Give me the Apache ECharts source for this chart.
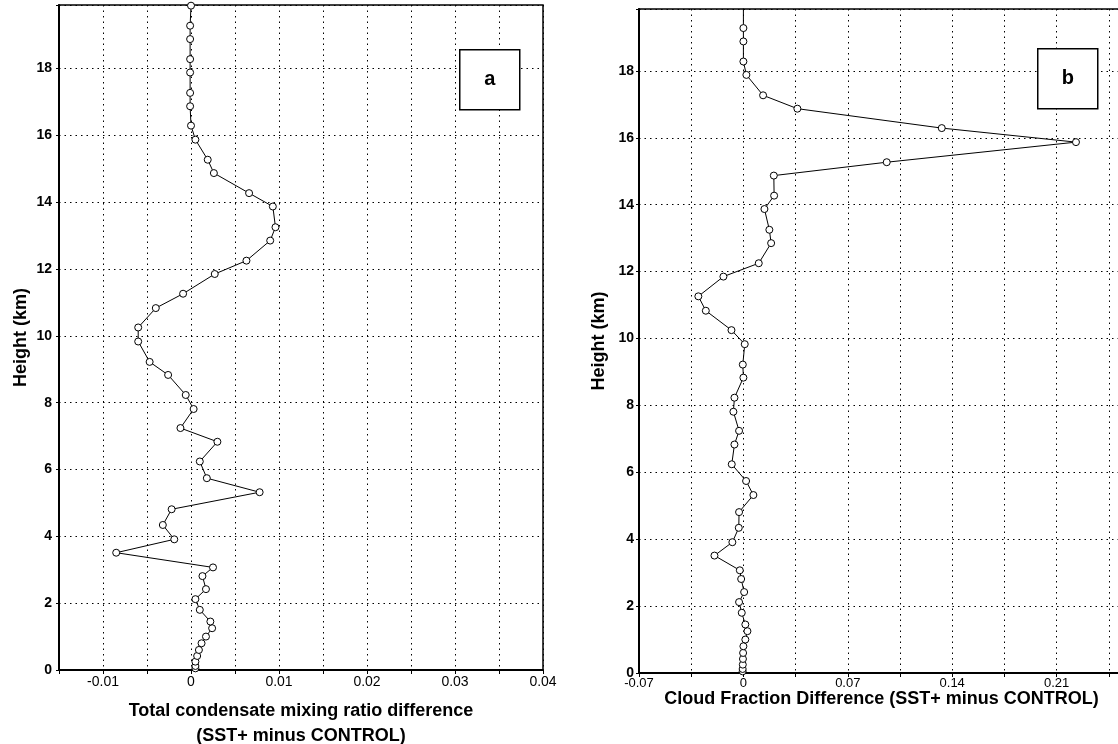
<!DOCTYPE html>
<html>
<head>
<meta charset="utf-8">
<script src="https://cdn.jsdelivr.net/npm/echarts@6/dist/echarts.min.js"></script>
<style>
	html, body { margin: 0; padding: 0; background: #fff; }
	#chart { width: 1118px; height: 744px; }
</style>
</head>
<body>
<div id="chart"></div>
<script>
// model levels (km), bottom to top, shared by both panels
var heights = [0.05, 0.12, 0.25, 0.42, 0.6, 0.8, 1.0, 1.25, 1.45, 1.8,
	2.12, 2.42, 2.81, 3.07, 3.51, 3.91, 4.34, 4.81, 5.32, 5.74,
	6.24, 6.83, 7.24, 7.81, 8.23, 8.83, 9.22, 9.83, 10.25, 10.83,
	11.26, 11.85, 12.25, 12.85, 13.25, 13.87, 14.27, 14.87, 15.27, 15.87,
	16.29, 16.87, 17.27, 17.88, 18.28, 18.88, 19.28, 19.88];

// panel a: total condensate mixing ratio difference
var condensateDiff = [0.0005, 0.0005, 0.0005, 0.0007, 0.0009, 0.0012, 0.0017, 0.0024, 0.0022, 0.0010,
	0.0005, 0.0017, 0.0013, 0.0025, -0.0085, -0.0019, -0.0032, -0.0022, 0.0078, 0.0018,
	0.0010, 0.0030, -0.0012, 0.0003, -0.0006, -0.0026, -0.0047, -0.0060, -0.0060, -0.0040,
	-0.0009, 0.0027, 0.0063, 0.0090, 0.0096, 0.0093, 0.0066, 0.0026, 0.0019, 0.0005,
	0.0000, -0.0001, -0.0001, -0.0001, -0.0001, -0.0001, -0.0001, 0.0000];

// panel b: cloud fraction difference
var cloudDiff = [-0.0005, -0.0005, -0.0004, -0.0003, -0.0002, 0.0, 0.0013, 0.0027, 0.0013, -0.0011,
	-0.0029, 0.0005, -0.0015, -0.0024, -0.0194, -0.0074, -0.0031, -0.0029, 0.0067, 0.0018,
	-0.0078, -0.0060, -0.0029, -0.0067, -0.0060, 0.0, -0.0004, 0.0009, -0.0080, -0.0252,
	-0.0302, -0.0134, 0.0103, 0.0186, 0.0174, 0.0141, 0.0206, 0.0204, 0.0961, 0.223,
	0.133, 0.0362, 0.0132, 0.002, 0.0, 0.0, 0.0, 0.0];

var xTitleA = 'Total condensate mixing ratio difference\n(SST+ minus CONTROL)';
var xTitleB = 'Cloud Fraction Difference (SST+ minus CONTROL)';
var yTitle = 'Height (km)';

var FONT = '"Liberation Sans", Arial, sans-serif';

function pairs(xs) {
	var out = [];
	for (var i = 0; i < xs.length; i++) {
		out.push([xs[i], heights[i]]);
	}
	return out;
}

// label only every other grid step
function stepLabel(step) {
	return function (v) {
		var k = v / step;
		var r = Math.round(k);
		if (Math.abs(k - r) > 0.01 || r % 2 !== 0) return '';
		return String(+v.toFixed(3));
	};
}

var dotted = { color: '#000', width: 1, type: [1.5, 4] };

function xAxisOf(idx, min, max, interval, title, gap, lh, fs, margin) {
	return {
		gridIndex: idx, type: 'value', min: min, max: max, interval: interval,
		name: title, nameLocation: 'middle', nameGap: gap, nameMoveOverlap: false,
		nameTextStyle: { fontFamily: FONT, fontSize: 18, fontWeight: 'bold', color: '#000', lineHeight: lh },
		axisLine: { onZero: false, lineStyle: { color: '#000', width: 2 } },
		axisTick: { show: true, inside: false, length: 4, lineStyle: { color: '#000' } },
		axisLabel: { fontFamily: FONT, fontSize: fs, color: '#000', margin: margin, formatter: stepLabel(interval) },
		splitLine: { show: true, lineStyle: dotted }
	};
}

function yAxisOf(idx, max, gap, margin) {
	return {
		gridIndex: idx, type: 'value', min: 0, max: max, interval: 2,
		name: yTitle, nameLocation: 'middle', nameGap: gap, nameMoveOverlap: false,
		nameTextStyle: { fontFamily: FONT, fontSize: 18, fontWeight: 'bold', color: '#000' },
		axisLine: { show: true, onZero: false, lineStyle: { color: '#000', width: 2 } },
		axisTick: { show: true, length: 3, lineStyle: { color: '#000' } },
		axisLabel: {
			fontFamily: FONT, fontSize: 14, fontWeight: 'bold', color: '#000', margin: margin,
			formatter: function (v) { return (Math.abs(v - Math.round(v)) < 0.001 && Math.round(v) % 2 === 0) ? String(Math.round(v)) : ''; }
		},
		splitLine: { show: true, lineStyle: dotted }
	};
}

function profile(xi, data) {
	return {
		type: 'line', xAxisIndex: xi, yAxisIndex: xi,
		data: pairs(data),
		symbol: 'circle', symbolSize: 7,
		lineStyle: { color: '#000', width: 1 },
		itemStyle: { color: '#fff', borderColor: '#000', borderWidth: 1 },
		animation: false
	};
}

function panelLabel(x, y, txt) {
	return {
		type: 'group', left: x, top: y,
		children: [
			{ type: 'rect', shape: { x: 0, y: 0, width: 60, height: 60 },
				style: { fill: '#fff', stroke: '#000', lineWidth: 1.5 }, z: 100 },
			{ type: 'text', x: 30, y: 30,
				style: { text: txt, fill: '#000', font: 'bold 20px ' + FONT, align: 'center', verticalAlign: 'middle' }, z: 101 }
		]
	};
}

var myChart = echarts.init(document.getElementById('chart'), null, { renderer: 'canvas' });
var option = {
	backgroundColor: '#fff',
	animation: false,
	grid: [
		{ left: 59, top: 5, width: 484, height: 665, show: true, borderColor: '#000', borderWidth: 1.5, outerBoundsMode: 'none' },
		{ left: 639, top: 9, width: 485, height: 664, show: true, borderColor: '#000', borderWidth: 1.5, outerBoundsMode: 'none' }
	],
	xAxis: [
		xAxisOf(0, -0.015, 0.04, 0.005, xTitleA, 29, 25, 14, 5),
		xAxisOf(1, -0.07, 0.2552, 0.035, xTitleB, 15, 22, 13, 4)
	],
	yAxis: [
		yAxisOf(0, 19.9, 29, 7),
		yAxisOf(1, 19.85, 31, 5)
	],
	series: [
		profile(0, condensateDiff),
		profile(1, cloudDiff)
	],
	graphic: [
		panelLabel(459, 49, 'a'),
		panelLabel(1037, 48, 'b')
	]
};
myChart.setOption(option);
</script>
</body>
</html>
